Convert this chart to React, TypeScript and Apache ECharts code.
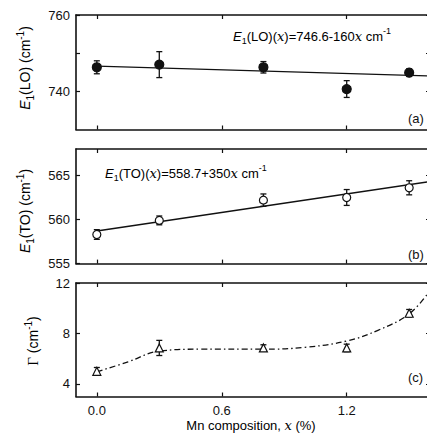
import React, { useEffect, useRef } from "react";
import * as echarts from "echarts";

// ---- data ----
const xTicks = [0, 0.6, 1.2];

// panel (a) E1(LO)
const loX = [0, 0.3, 0.8, 1.2, 1.5];
const loY = [746.3, 747.0, 746.3, 740.6, 744.9];
const loErr = [1.7, 3.4, 1.5, 2.2, 1.0];
const loFitX = [0, 1.6];
const loFitY = [746.6, 744.04];

// panel (b) E1(TO)
const toX = [0, 0.3, 0.8, 1.2, 1.5];
const toY = [558.3, 559.9, 562.2, 562.5, 563.6];
const toErr = [0.55, 0.5, 0.7, 0.9, 0.8];
const toFitX = [0, 1.6];
const toFitY = [558.7, 564.3];

// panel (c) Gamma
const gX = [0, 0.3, 0.8, 1.2, 1.5];
const gY = [5.0, 6.85, 6.85, 6.85, 9.6];
const gErr = [0.3, 0.6, 0.25, 0.3, 0.3];
const gCurveX = [0, 0.15, 0.3, 0.5, 0.8, 1.0, 1.2, 1.35, 1.5, 1.6];
const gCurveY = [4.95, 5.75, 6.6, 6.75, 6.75, 6.9, 7.4, 8.25, 9.55, 11.4];

const yRanges = [
  { min: 730, max: 760, ticks: [740, 750, 760], labels: [740, 760] },
  { min: 555, max: 568, ticks: [555, 560, 565], labels: [555, 560, 565] },
  { min: 3, max: 12, ticks: [4, 8, 12], labels: [4, 8, 12] },
];

const FONT = "Liberation Sans, Arial, sans-serif";
const INK = "#111";

const zip = (a: number[], b: number[]) => a.map((v, i) => [v, b[i]]);
const zip3 = (a: number[], b: number[], c: number[]) => a.map((v, i) => [v, b[i], c[i]]);

const grids = [
  { left: 76, width: 354, top: 15, height: 114.5 },
  { left: 76, width: 354, top: 149, height: 114.6 },
  { left: 76, width: 354, top: 283, height: 113.5 },
];

const richBase = (size: number) => ({
  n: { fontFamily: FONT, fontSize: size, color: INK, lineHeight: size + 6, verticalAlign: "middle" },
  i: { fontFamily: FONT, fontSize: size, fontStyle: "italic", color: INK, lineHeight: size + 6, verticalAlign: "middle" },
  sub: { fontFamily: FONT, fontSize: size - 4, color: INK, lineHeight: size - 4, verticalAlign: "bottom" },
  sup: { fontFamily: FONT, fontSize: size - 4, color: INK, lineHeight: size - 4, verticalAlign: "top" },
  ix: { fontFamily: "DejaVu Serif, serif", fontSize: size, fontStyle: "italic", color: INK, lineHeight: size + 6, verticalAlign: "middle" },
  g: { fontFamily: "Liberation Serif, serif", fontSize: size + 1, color: INK, lineHeight: size + 6, verticalAlign: "middle" },
});

function errRender(params: any, api: any) {
  const x = api.value(0);
  const y = api.value(1);
  const e = api.value(2);
  const t = api.coord([x, y + e]);
  const b = api.coord([x, y - e]);
  const hw = 3;
  const st = { stroke: INK, lineWidth: 1.3 };
  return {
    type: "group",
    children: [
      { type: "line", shape: { x1: t[0], y1: t[1], x2: b[0], y2: b[1] }, style: st },
      { type: "line", shape: { x1: t[0] - hw, y1: t[1], x2: t[0] + hw, y2: t[1] }, style: st },
      { type: "line", shape: { x1: b[0] - hw, y1: b[1], x2: b[0] + hw, y2: b[1] }, style: st },
    ],
  };
}

export default function App() {
  const ref = useRef<HTMLDivElement>(null);
  useEffect(() => {
    if (!ref.current) return;
    const chart = echarts.init(ref.current, null, { renderer: "svg" });

    const xAxes: any[] = [];
    const yAxes: any[] = [];
    for (let i = 0; i < 3; i++) {
      for (const pos of ["bottom", "top"]) {
        xAxes.push({
          type: "value",
          gridIndex: i,
          position: pos,
          min: -0.1,
          max: 1.6,
          axisLine: { show: true, onZero: false, lineStyle: { color: INK, width: 1.6 } },
          axisTick: { show: true, inside: true, length: 4, customValues: xTicks, lineStyle: { color: INK, width: 1.2 } },
          axisLabel: {
            show: i === 2 && pos === "bottom",
            customValues: xTicks,
            formatter: (v: number) => v.toFixed(1),
            fontFamily: FONT,
            fontSize: 13,
            color: INK,
            margin: 7,
          },
          splitLine: { show: false },
        });
      }
      const r = yRanges[i];
      for (const pos of ["left", "right"]) {
        yAxes.push({
          type: "value",
          gridIndex: i,
          position: pos,
          min: r.min,
          max: r.max,
          axisLine: { show: true, onZero: false, lineStyle: { color: INK, width: 1.6 } },
          axisTick: { show: true, inside: true, length: 4, customValues: r.ticks, lineStyle: { color: INK, width: 1.2 } },
          axisLabel: {
            show: pos === "left",
            customValues: r.labels,
            fontFamily: FONT,
            fontSize: 13,
            color: INK,
            margin: 6,
          },
          splitLine: { show: false },
        });
      }
    }

    const series: any[] = [];
    const panels = [
      { x: loX, y: loY, e: loErr, symbol: "circle", fill: INK, size: 9 },
      { x: toX, y: toY, e: toErr, symbol: "circle", fill: "#fff", size: 8 },
      { x: gX, y: gY, e: gErr, symbol: "triangle", fill: "#fff", size: 8 },
    ];
    series.push({
      type: "line", xAxisIndex: 0, yAxisIndex: 0, data: zip(loFitX, loFitY), showSymbol: false,
      lineStyle: { color: INK, width: 1.4 }, z: 2,
    });
    series.push({
      type: "line", xAxisIndex: 2, yAxisIndex: 2, data: zip(toFitX, toFitY), showSymbol: false,
      lineStyle: { color: INK, width: 1.4 }, z: 2,
    });
    series.push({
      type: "line", xAxisIndex: 4, yAxisIndex: 4, data: zip(gCurveX, gCurveY), showSymbol: false, smooth: 0.4,
      lineStyle: { color: INK, width: 1.3, type: [6, 3, 1.5, 3] }, z: 2,
    });
    panels.forEach((p, i) => {
      series.push({
        type: "custom",
        xAxisIndex: 2 * i,
        yAxisIndex: 2 * i,
        data: zip3(p.x, p.y, p.e),
        renderItem: errRender,
        encode: { x: 0, y: 1 },
        z: 3,
      });
      series.push({
        type: "scatter",
        xAxisIndex: 2 * i,
        yAxisIndex: 2 * i,
        data: zip(p.x, p.y),
        symbol: p.symbol,
        symbolSize: p.size,
        itemStyle: { color: p.fill, borderColor: INK, borderWidth: 1.2, opacity: 1 },
        z: 4,
      });
    });

    const graphic: any[] = [
      {
        type: "text", x: 25, y: 68, rotation: Math.PI / 2,
        style: { text: "{i|E}{sub|1}{n|(LO) (cm}{sup|-1}{n|)}", rich: richBase(14), align: "center", verticalAlign: "middle" },
      },
      {
        type: "text", x: 25, y: 211, rotation: Math.PI / 2,
        style: { text: "{i|E}{sub|1}{n|(TO) (cm}{sup|-1}{n|)}", rich: richBase(14), align: "center", verticalAlign: "middle" },
      },
      {
        type: "text", x: 33, y: 341, rotation: Math.PI / 2,
        style: { text: "{g|Γ}{n| (cm}{sup|-1}{n|)}", rich: richBase(14), align: "center", verticalAlign: "middle" },
      },
      {
        type: "text", x: 233, y: 36,
        style: { text: "{i|E}{sub|1}{n|(LO)(}{ix|x}{n|)=746.6-160}{ix|x}{n| cm}{sup|-1}", rich: richBase(13), align: "left", verticalAlign: "middle" },
      },
      {
        type: "text", x: 105, y: 173,
        style: { text: "{i|E}{sub|1}{n|(TO)(}{ix|x}{n|)=558.7+350}{ix|x}{n| cm}{sup|-1}", rich: richBase(13), align: "left", verticalAlign: "middle" },
      },
      { type: "text", x: 408, y: 118, style: { text: "(a)", fontFamily: FONT, fontSize: 13, fill: INK, align: "left", verticalAlign: "middle" } },
      { type: "text", x: 408, y: 254, style: { text: "(b)", fontFamily: FONT, fontSize: 13, fill: INK, align: "left", verticalAlign: "middle" } },
      { type: "text", x: 408, y: 377, style: { text: "(c)", fontFamily: FONT, fontSize: 13, fill: INK, align: "left", verticalAlign: "middle" } },
      {
        type: "text", x: 251, y: 425,
        style: { text: "{n|Mn composition, }{ix|x}{n| (%)}", rich: richBase(13), align: "center", verticalAlign: "middle" },
      },
    ];

    chart.setOption({
      animation: false,
      backgroundColor: "#fff",
      grid: grids,
      xAxis: xAxes,
      yAxis: yAxes,
      series,
      graphic,
    });
    return () => chart.dispose();
  }, []);

  return (
    <div style={{ position: "fixed", left: 0, top: 0, width: 427, height: 436, overflow: "hidden", background: "#fff" }}>
      <div ref={ref} style={{ width: 440, height: 436 }} />
    </div>
  );
}
